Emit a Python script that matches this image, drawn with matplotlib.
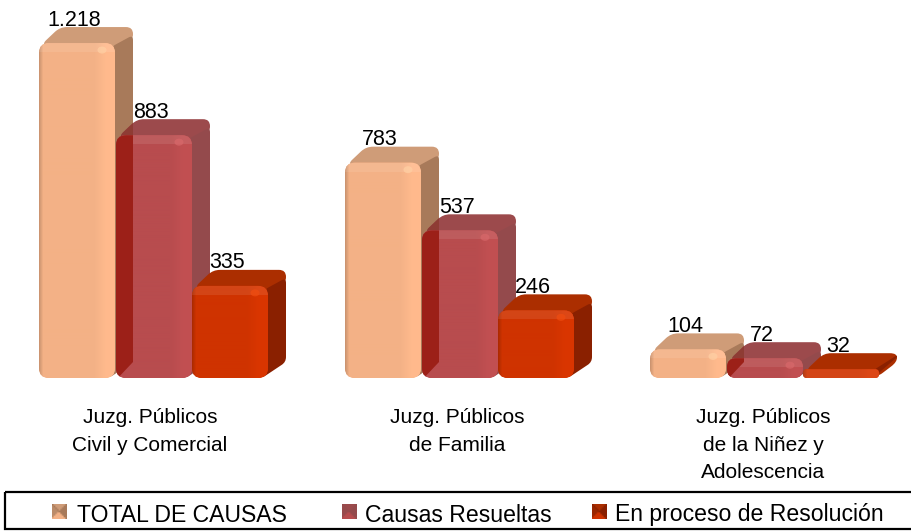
import numpy as np
import matplotlib
matplotlib.use("Agg")
import matplotlib.pyplot as plt
from matplotlib.colors import to_rgb
from matplotlib.patches import Ellipse, FancyBboxPatch, PathPatch, Rectangle
from matplotlib.path import Path

plt.rcParams["font.family"] = ["Liberation Sans", "DejaVu Sans"]

categories = ["Juzg. Públicos\nCivil y Comercial", "Juzg. Públicos\nde Familia",
              "Juzg. Públicos\nde la Niñez y\nAdolescencia"]
series_names = ["TOTAL DE CAUSAS", "Causas Resueltas", "En proceso de Resolución"]
total_causas = [1218, 783, 104]
causas_resueltas = [883, 537, 72]
en_proceso = [335, 246, 32]
value_labels = [["1.218", "783", "104"], ["883", "537", "72"], ["335", "246", "32"]]

front_colors = ["#f3b186", "#b84c4e", "#cf3300"]
top_colors = ["#cf9c78", "#9c4a4c", "#ab2e00"]
side_colors = ["#a87a5a", "#944a4c", "#8a2000"]
spot_colors = ["#ffd0a4", "#d8686a", "#f04c10"]
overlap_color = "#9c2018"
overlap_top = "#8e3c34"

PX = 0.275  # pixels per case
BASE_PX = 378
W, H = 912, 531
group_x = [39, 345, 650]
bar_w = 76
dx, dy = 18, 16
rad = 10

fig = plt.figure(figsize=(W / 100, H / 100), dpi=100)
ax = fig.add_axes([0, 0, 1, 1])
ax.set_xlim(0, W)
ax.set_ylim(-(H - BASE_PX) / PX, BASE_PX / PX)
ax.axis("off")


def round_poly(pts, r, **kw):
    # closed polygon (x, case value) with its corners rounded by r pixels
    pts = [np.array([p[0], p[1] * PX]) for p in pts]
    verts, codes = [], []
    n = len(pts)
    for k in range(n):
        p, a, b = pts[k], pts[k - 1], pts[(k + 1) % n]
        ra = min(r, np.linalg.norm(a - p) / 2)
        rb = min(r, np.linalg.norm(b - p) / 2)
        p1 = p + (a - p) / np.linalg.norm(a - p) * ra
        p2 = p + (b - p) / np.linalg.norm(b - p) * rb
        verts += [p1, p, p2]
        codes += [Path.MOVETO if k == 0 else Path.LINETO, Path.CURVE3, Path.CURVE3]
    verts.append(verts[0])
    codes.append(Path.CLOSEPOLY)
    verts = [(v[0], v[1] / PX) for v in verts]
    patch = PathPatch(Path(verts, codes), ec="none", **kw)
    ax.add_patch(patch)
    return patch


def gradient(color):
    # thin dark left edge, soft lighter strip on the right
    base = np.array(to_rgb(color))
    xs = np.linspace(0, 1, 76)
    shade = 1 + 0.05 * ((xs - 0.72) * 6).clip(0, 1) - 0.16 * (1 - xs * 20).clip(0)
    img = np.ones((4, 76, 3)) * base * shade[None, :, None]
    return img.clip(0, 1)


def legend_swatch(front, side, top):
    # little pyramid look of the legend keys
    n = 9
    img = np.ones((n, n, 3))
    f, s, t = np.array(to_rgb(front)), np.array(to_rgb(side)), np.array(to_rgb(top))
    for r in range(n):
        for c in range(n):
            if r + c < n - 1 and r < c:
                col = t
            elif r + c >= n - 1 and r > c:
                col = f
            elif c >= r:
                col = s
            else:
                col = (s + t) / 2
            img[r, c] = col
    return img


for g in range(3):
    values = [total_causas[g], causas_resueltas[g], en_proceso[g]]
    for i, val in enumerate(values):
        x = group_x[g] + i * bar_w + (1 if i else 0)
        r = min(rad, val * PX * 0.45)
        z = 2 + i
        d = dy / PX
        top_face = round_poly([(x + 2, val - 2 / PX), (x + dx + 3, val + d), (x + bar_w + dx, val + d),
                               (x + bar_w + dx, val + d - min(14, val * PX) / PX), (x + bar_w - 2, val - 8 / PX)],
                              7, fc=top_colors[i], zorder=z)
        if val * PX > 14:
            round_poly([(x + bar_w - 4, val - 4 / PX), (x + bar_w + dx, val + d - 8 / PX),
                        (x + bar_w + dx, d), (x + bar_w - 6, 0)],
                       5, fc=side_colors[i], zorder=z + 0.1)
        else:
            round_poly([(x + bar_w - 4, val), (x + bar_w + dx, val + d - 2 / PX),
                        (x + bar_w + dx, val + d - 4 / PX), (x + bar_w - 6, 0)],
                       2, fc=side_colors[i], zorder=z + 0.1)
        box = FancyBboxPatch((x + r, r / PX), bar_w - 2 * r, val - 2 * r / PX,
                             boxstyle=f"round,pad={r},rounding_size={r}", mutation_aspect=1 / PX,
                             fc=front_colors[i], ec="none", zorder=z + 0.2)
        ax.add_patch(box)
        im = ax.imshow(gradient(front_colors[i]), extent=(x, x + bar_w, 0, val), aspect="auto", zorder=z + 0.3)
        im.set_clip_path(box)
        band = Rectangle((x, val - 9 / PX), bar_w, 9 / PX, fc="white", alpha=0.09, ec="none", zorder=z + 0.4)
        ax.add_patch(band)
        band.set_clip_path(box)
        if i == 1:
            # the peach bar's side shows through the translucent red one
            prev_x = group_x[g] + bar_w
            top_v = total_causas[g]
            shade = round_poly([(x, -2 / PX), (prev_x + dx, d), (prev_x + dx, top_v + d), (x, top_v + d)],
                               0.1, fc=overlap_color, zorder=z + 0.5)
            shade.set_clip_path(box)
            shade2 = round_poly([(x - 2, val - 8 / PX), (prev_x + dx, val - 8 / PX), (prev_x + dx, val + d + 2 / PX),
                                 (x - 2, val + d + 2 / PX)],
                                0.1, fc=overlap_top, zorder=z + 0.05)
            shade2.set_clip_path(top_face)
        if val * PX > 14:
            spot = Ellipse((x + bar_w - 13, val - 7 / PX), 9, 7 / PX, fc=spot_colors[i], ec="none", alpha=0.7, zorder=z + 0.6)
            ax.add_patch(spot)
        ax.text(x + bar_w / 2 - 3, val + 23 / PX, value_labels[i][g], ha="center", va="center",
                fontsize=15.5, color="black", zorder=10)

label_x = [150, 457, 763]
for lx, name in zip(label_x, categories):
    ax.text(lx, -(408 - BASE_PX) / PX, name, ha="center", va="top", fontsize=15, linespacing=1.58, color="black")

# legend band along the bottom
lax = fig.add_axes([0, 0, 1, 1])
lax.set_xlim(0, W)
lax.set_ylim(H, 0)
lax.axis("off")
lax.patch.set_alpha(0)
lax.add_patch(Rectangle((5, 492), W + 10, 37, fc="none", ec="black", lw=1.6))
legend_mark = [52, 342, 592]
legend_label = [77, 365, 615]
for mx, tx, name, c, s, t in zip(legend_mark, legend_label, series_names, front_colors, side_colors, top_colors):
    lax.imshow(legend_swatch(c, s, t), extent=(mx, mx + 15, 519, 504), aspect="auto", interpolation="bilinear")
    lax.text(tx, 515, name, ha="left", va="center", fontsize=16.6, color="black")

fig.savefig("out.png", dpi=100)
